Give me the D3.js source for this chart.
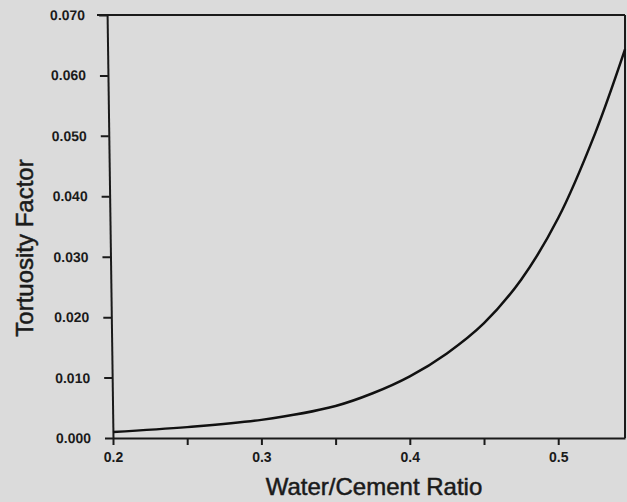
<!DOCTYPE html>
<html>
<head>
<meta charset="utf-8">
<script src="https://cdn.jsdelivr.net/npm/d3@7"></script>
<style>
  body { margin: 0; background: #dbdbdb; }
  svg { display: block; }
  text { font-family: "Liberation Sans", Arial, sans-serif; fill: #1a1a1a; }
</style>
</head>
<body>
<svg id="chart" width="627" height="502"></svg>
<script>
// values
let ratio = [0.20, 0.25, 0.30, 0.35, 0.375, 0.40, 0.425, 0.45, 0.475, 0.50, 0.525, 0.545];
let tortuosity = [0.0010, 0.0018, 0.0030, 0.0053, 0.0074, 0.0102, 0.0140, 0.0190, 0.0262, 0.0364, 0.0505, 0.0643];
let xTicks = [0.2, 0.25, 0.3, 0.35, 0.4, 0.45, 0.5];
let xTickLabels = ['0.2', '', '0.3', '', '0.4', '', '0.5'];
let yTicks = [0, 0.01, 0.02, 0.03, 0.04, 0.05, 0.06, 0.07];

let svg = d3.select('#chart');

let sx = d3.scaleLinear()
  .domain([0.2, 0.545])
  .range([113, 625]);

let sy = d3.scaleLinear()
  .domain([0, 0.07])
  .range([438, 15]);

// frame: top and right edges
svg.append('line')
  .attr('x1', sx(0.2) - 16).attr('y1', sy(0.07))
  .attr('x2', sx(0.545)).attr('y2', sy(0.07))
  .attr('stroke', '#1a1a1a').attr('stroke-width', 2);

svg.append('line')
  .attr('x1', sx(0.545)).attr('y1', sy(0.07))
  .attr('x2', sx(0.545)).attr('y2', sy(0))
  .attr('stroke', '#1a1a1a').attr('stroke-width', 2);

// x axis
let xAxis = d3.axisBottom(sx)
  .tickValues(xTicks)
  .tickFormat((d, i) => xTickLabels[i])
  .tickSize(7)
  .tickPadding(7)
  .tickSizeOuter(0);

let gx = svg.append('g')
  .attr('transform', `translate(0,${sy(0)})`)
  .call(xAxis);

// the scanned y axis leans a little to the left at the top
let yAxis = d3.axisLeft(sy)
  .tickValues(yTicks)
  .tickFormat(d3.format('.3f'))
  .tickSize(8)
  .tickPadding(14)
  .tickSizeOuter(0);

let gy = svg.append('g')
  .attr('transform', `translate(${sx(0.2)},${sy(0)}) skewX(0.8) translate(0,${-sy(0)})`)
  .call(yAxis);

[gx, gy].forEach(g => {
  g.select('.domain').attr('stroke', '#1a1a1a').attr('stroke-width', 2);
  g.selectAll('.tick line').attr('stroke', '#1a1a1a').attr('stroke-width', 2);
  g.selectAll('.tick text')
    .style('font-family', '"Liberation Sans", Arial, sans-serif')
    .style('font-size', '14px')
    .style('font-weight', 'bold')
    .attr('fill', '#1a1a1a');
});

// curve
let line = d3.line()
  .x((d, i) => sx(ratio[i]))
  .y(d => sy(d))
  .curve(d3.curveCatmullRom.alpha(0.5));

svg.append('path')
  .datum(tortuosity)
  .attr('d', line)
  .attr('fill', 'none')
  .attr('stroke', '#111')
  .attr('stroke-width', 2.5);

// axis titles
svg.append('text')
  .attr('x', 374)
  .attr('y', 495)
  .attr('text-anchor', 'middle')
  .style('font-size', '24px')
  .attr('stroke', '#1a1a1a')
  .attr('stroke-width', 0.5)
  .text('Water/Cement Ratio');

svg.append('text')
  .attr('transform', 'translate(33,248) rotate(-90)')
  .attr('text-anchor', 'middle')
  .style('font-size', '24px')
  .attr('stroke', '#1a1a1a')
  .attr('stroke-width', 0.5)
  .text('Tortuosity Factor');
</script>
</body>
</html>
